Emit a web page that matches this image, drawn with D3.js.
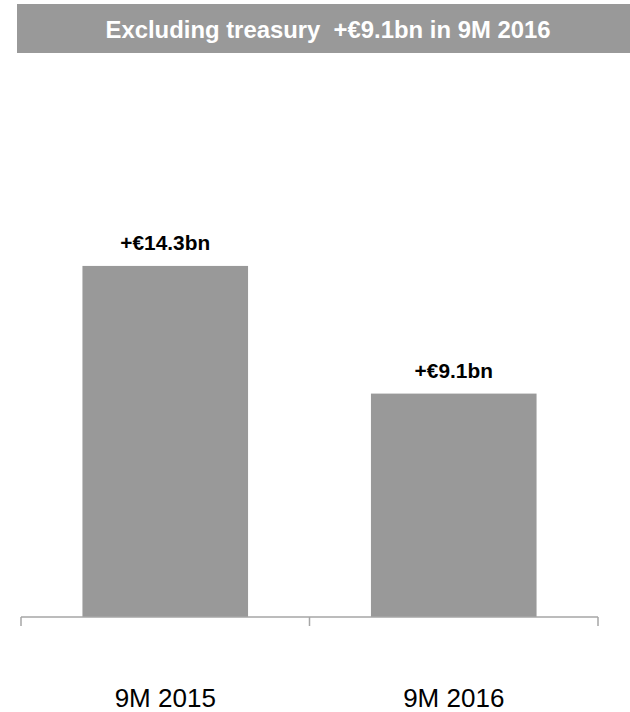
<!DOCTYPE html>
<html>
<head>
<meta charset="utf-8">
<script src="https://cdn.jsdelivr.net/npm/d3@7"></script>
<style>
  html, body { margin: 0; padding: 0; background: #ffffff; }
  svg { display: block; }
</style>
</head>
<body>
<div id="chart"></div>
<script>
const categories = ["9M 2015", "9M 2016"];
const values = [14.3, 9.1];
const valueLabels = ["+€14.3bn", "+€9.1bn"];
const titleText = "Excluding treasury  +€9.1bn in 9M 2016";

const W = 630, H = 712;
const svg = d3.select("#chart").append("svg").attr("width", W).attr("height", H);
const FONT = "Liberation Sans, Arial, sans-serif";

// Title banner
svg.append("rect").attr("x", 17).attr("y", 4).attr("width", 613).attr("height", 49).attr("fill", "#999999");
svg.append("text").attr("x", 328).attr("y", 38).attr("text-anchor", "middle")
  .attr("font-family", FONT).attr("font-weight", "bold")
  .attr("font-size", 24).attr("fill", "#ffffff")
  .attr("textLength", 445).attr("lengthAdjust", "spacingAndGlyphs")
  .style("white-space", "pre").attr("xml:space", "preserve").text(titleText);

const baseY = 617;
const x = d3.scaleBand().domain(categories).range([21, 598]).paddingInner(0.426).paddingOuter(0.213);
const y = d3.scaleLinear().domain([0, 20]).range([baseY, baseY - 20 * 24.55]);

// Bars
svg.selectAll("rect.bar").data(categories).enter().append("rect").attr("class", "bar")
  .attr("x", d => x(d)).attr("width", x.bandwidth())
  .attr("y", (d, i) => y(values[i])).attr("height", (d, i) => y(0) - y(values[i]))
  .attr("fill", "#999999");

// Value labels
svg.selectAll("text.val").data(categories).enter().append("text").attr("class", "val")
  .attr("x", d => x(d) + x.bandwidth() / 2).attr("y", (d, i) => y(values[i]) - 15.5)
  .attr("text-anchor", "middle").attr("font-family", FONT)
  .attr("font-weight", "bold").attr("font-size", 19.5).attr("fill", "#000")
  .attr("transform", (d, i) => {
    const cx = x(d) + x.bandwidth() / 2;
    return `translate(${cx},0) scale(1.07,1) translate(${-cx},0)`;
  })
  .text((d, i) => valueLabels[i]);

// Axis
const axisG = svg.append("g").attr("transform", `translate(0,${baseY})`);
const step = x.step();
const tickPos = [x.range()[0], x.range()[0] + step, x.range()[1]];
axisG.append("line").attr("x1", x.range()[0]).attr("x2", x.range()[1]).attr("y1", 0).attr("y2", 0)
  .attr("stroke", "#a6a6a6").attr("stroke-width", 1.5);
axisG.selectAll("line.tick").data(tickPos).enter().append("line").attr("class", "tick")
  .attr("x1", d => d).attr("x2", d => d).attr("y1", 0).attr("y2", 9)
  .attr("stroke", "#a6a6a6").attr("stroke-width", 1.5);

// Category labels
svg.selectAll("text.cat").data(categories).enter().append("text").attr("class", "cat")
  .attr("x", d => x(d) + x.bandwidth() / 2).attr("y", 707)
  .attr("text-anchor", "middle").attr("font-family", FONT)
  .attr("font-size", 26).attr("fill", "#000").text(d => d);
</script>
</body>
</html>
